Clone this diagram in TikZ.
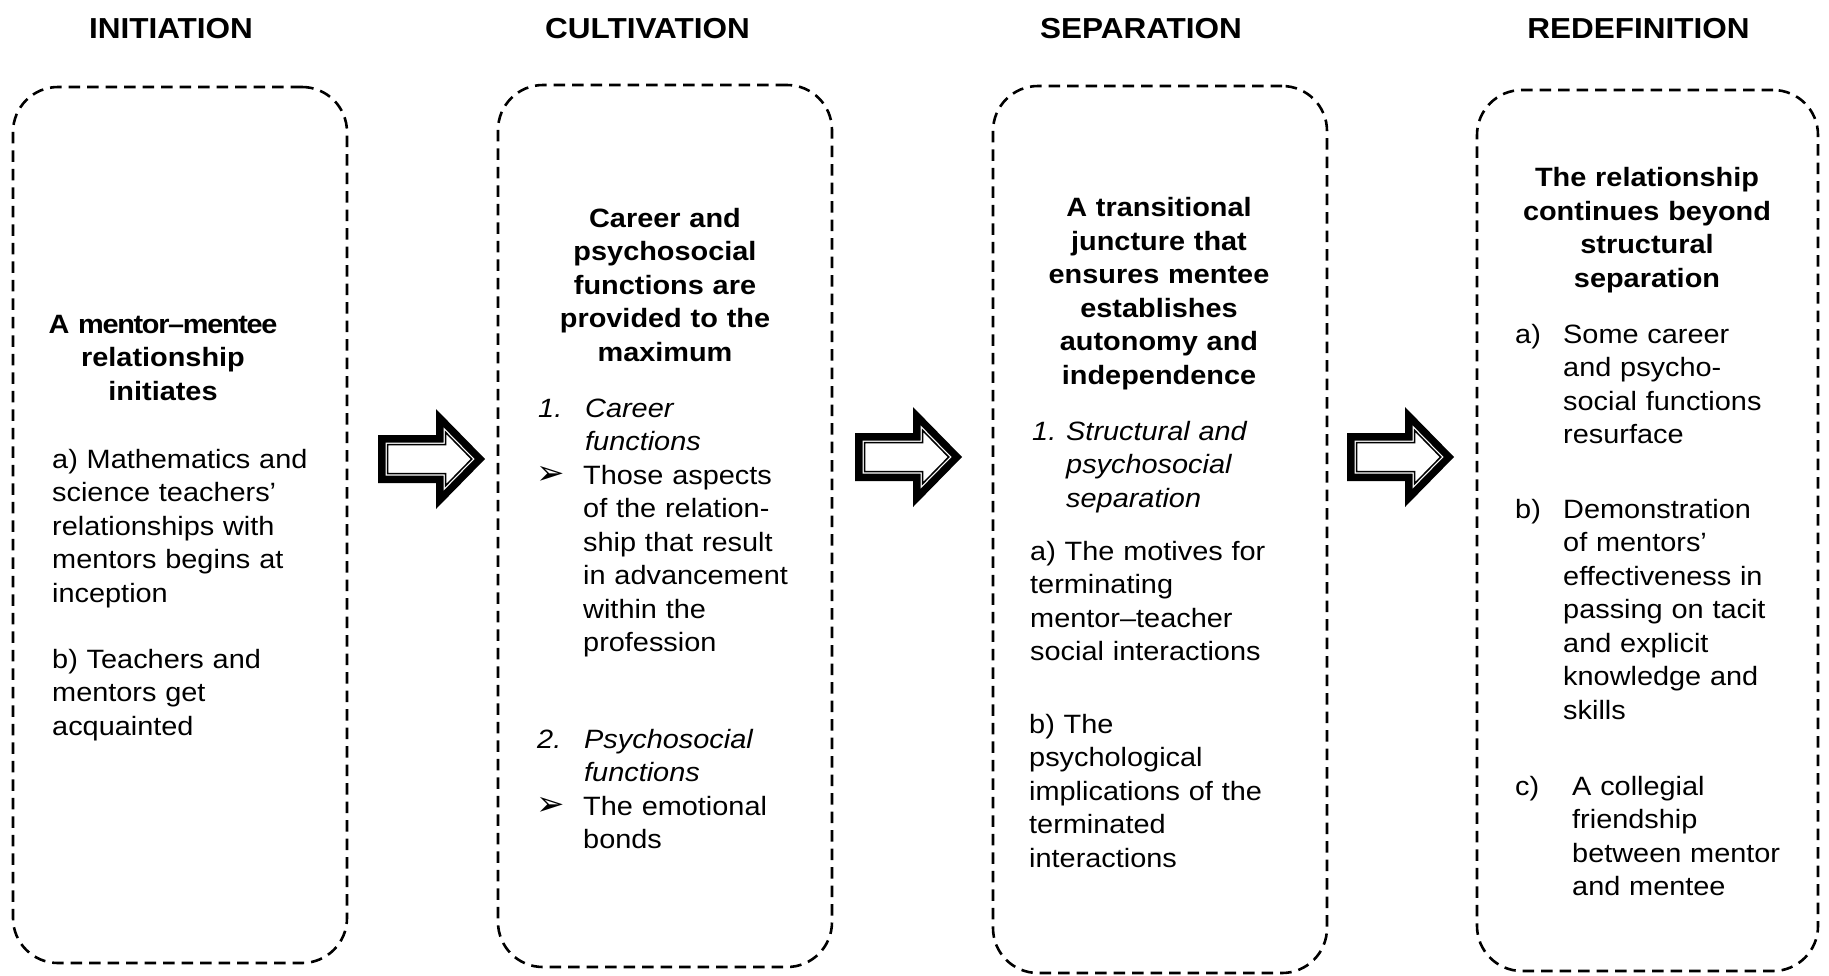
\documentclass[tikz,border=0pt]{standalone}
\usepackage{fontspec}
\setmainfont{Liberation Sans}[FakeStretch=1.09]
\newfontfamily\dingfont{DejaVu Sans}
\usetikzlibrary{calc}

% text sizes
\newcommand\stagetext{\fontsize{26.5pt}{33.5pt}\selectfont}
\newcommand\stagehead{\fontsize{28.9pt}{34pt}\selectfont\bfseries}

% outline of a block arrow, inset by #1
\newcommand\arrowpath[1]{({#1},{-24+#1}) -- ({58+#1},{-24+#1}) -- ({58+#1},{-50+2.449*#1}) -- ({107-1.4*#1},0) -- ({58+#1},{50-2.449*#1}) -- ({58+#1},{24-#1}) -- ({#1},{24-#1}) -- cycle}

\tikzset{
  stagebox/.style={draw=black, line width=2.6pt, dash pattern=on 11.5pt off 7pt,
    rounded corners=45pt, inner sep=0pt, fill=none},
  phasename/.style={font=\stagehead, inner sep=0pt, anchor=base},
  headline/.style={font=\stagetext\bfseries, align=center, text width=330pt,
    inner sep=0pt, anchor=base},
  para/.style={font=\stagetext, align=left, text width=300pt, inner sep=0pt,
    anchor=base west},
  ipara/.style={para, font=\stagetext\itshape},
  tag/.style={font=\stagetext, inner sep=0pt, anchor=base west},
  itag/.style={tag, font=\stagetext\itshape},
  bullet/.style={font=\dingfont\fontsize{34pt}{34pt}\selectfont, inner sep=0pt, anchor=base west},
  blockarrow/.pic={
    \fill[black] \arrowpath{0};
    \fill[white] \arrowpath{7.5};
    \draw[black, line width=1.5pt, fill=white] \arrowpath{9.5};
  }
}

\begin{document}
\begin{tikzpicture}[x=1pt, y=-1pt]
\useasboundingbox (0,0) rectangle (1829,975);

% phase names
\node[phasename] (h1) at (171,38) {INITIATION};
\node[phasename] (h2) at (647.5,38) {CULTIVATION};
\node[phasename] (h3) at (1141,38) {SEPARATION};
\node[phasename] (h4) at (1638.5,38) {REDEFINITION};

% dashed stage boxes
\node[stagebox, minimum width=334pt, minimum height=876pt] (b1) at (180,525) {};
\node[stagebox, minimum width=334pt, minimum height=882pt] (b2) at (665,526) {};
\node[stagebox, minimum width=334pt, minimum height=887pt] (b3) at (1160,529.5) {};
\node[stagebox, minimum width=341pt, minimum height=881pt] (b4) at (1647.5,530.5) {};

% block arrows between the stages
\pic at (378,459) {blockarrow};
\pic at (855,457) {blockarrow};
\pic at (1347,457) {blockarrow};

% initiation
\node[headline] (t1) at (163,333) {{\addfontfeature{LetterSpace=-5}A mentor–mentee}\\relationship\\initiates};
\node[para] (p1a) at (52,468) {a) Mathematics and\\science teachers’\\relationships with\\mentors begins at\\inception};
\node[para] (p1b) at (52,668) {b) Teachers and\\mentors get\\acquainted};

% cultivation
\node[headline] (t2) at (665,227) {Career and\\psychosocial\\functions are\\provided to the\\maximum};
\node[itag] (n21) at (538,417) {1.};
\node[ipara] (c21) at (585,417) {Career\\functions};
\node[bullet] (m21) at (536,484) {➢};
\node[para] (d21) at (583,484) {Those aspects\\of the relation-\\ship that result\\in advancement\\within the\\profession};
\node[itag] (n22) at (537,748) {2.};
\node[ipara] (c22) at (584,748) {Psychosocial\\functions};
\node[bullet] (m22) at (536,815) {➢};
\node[para] (d22) at (583,815) {The emotional\\bonds};

% separation
\node[headline] (t3) at (1159,216.7) {A transitional\\juncture that\\ensures mentee\\establishes\\autonomy and\\independence};
\node[itag] (n31) at (1032,440) {1.};
\node[ipara] (c31) at (1066,440) {Structural and\\psychosocial\\separation};
\node[para] (p3a) at (1030,560) {a) The motives for\\terminating\\mentor–teacher\\social interactions};
\node[para] (p3b) at (1029,733) {b) The\\psychological\\implications of the\\terminated\\interactions};

% redefinition
\node[headline] (t4) at (1647,186.7) {The relationship\\continues beyond\\structural\\separation};
\node[tag] (n4a) at (1515,343) {a)};
\node[para] (p4a) at (1563,343) {Some career\\and psycho-\\social functions\\resurface};
\node[tag] (n4b) at (1515,518) {b)};
\node[para] (p4b) at (1563,518) {Demonstration\\of mentors’\\effectiveness in\\passing on tacit\\and explicit\\knowledge and\\skills};
\node[tag] (n4c) at (1515,795) {c)};
\node[para] (p4c) at (1572,795) {A collegial\\friendship\\between mentor\\and mentee};
\end{tikzpicture}
\end{document}
